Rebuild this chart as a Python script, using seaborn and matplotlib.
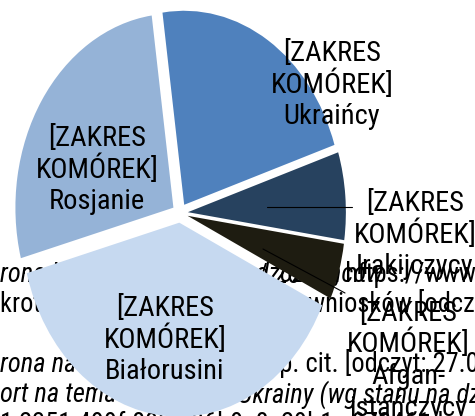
import matplotlib
matplotlib.use("Agg")
import matplotlib.pyplot as plt
import seaborn as sns
from matplotlib import font_manager as fm

# ---- data ----
categories = ["Ukraińcy", "Irakijczycy", "Afganistańczycy", "Białorusini", "Rosjanie"]
label_names = ["Ukraińcy", "Irakijczycy", "Afgan-\nistańczycy", "Białorusini", "Rosjanie"]
shares = [22.2, 7.3, 4.7, 38.8, 27.0]
label_prefix = "[ZAKRES\nKOMÓREK]"
colors = ["#4F81BD", "#27425F", "#1E1C11", "#C6D9F0", "#95B3D7"]

# background document text fragments (left x px, baseline y px, text, italic)
doc_text = [
    (0, 282, "rona Urzędu do Spraw Cudzoziemców", True),
    (258, 282, "/ 20", False),
    (327, 282, "., https://www.udsc.gov.pl", False),
    (0, 312, "krotność złożonych", False),
    (308, 312, "wniosków [odczyt: 27.03.2017]", False),
    (0, 372.5, "rona na temat", True),
    (266, 372.5, "op. cit. [odczyt: 27.03.2017]", False),
    (0, 402.5, "ort na temat obywateli", True),
    (238, 402.5, "Ukrainy (wg stanu na dzień", True),
    (0, 432.5, "1 2351-499f-8934-06b9c8e29b1c-373461d", False),
]

sns.set_theme(style="white")


def pick_font():
    tl = fm.fontManager.ttflist
    names = {f.name for f in tl}
    for want in ["Liberation Sans Narrow", "Arial Narrow", "Roboto Condensed",
                 "Open Sans Condensed", "Noto Sans Condensed"]:
        if want in names:
            return want, "normal"
    for fam in ["Liberation Sans", "Roboto", "Noto Sans", "Open Sans", "DejaVu Sans"]:
        for f in tl:
            st = f.stretch
            cond = (st in ("condensed", "semi-condensed", "extra-condensed")) or \
                   (isinstance(st, int) and st < 500)
            if f.name == fam and cond:
                return fam, "condensed"
    return "Liberation Sans", "normal"


FONT, STRETCH = pick_font()
plt.rcParams["font.family"] = [FONT, "DejaVu Sans"]

W, H = 475, 416
CX, CY, RX, RY = 180, 213, 158, 194


def to_data(x, y):
    return ((x - CX) / RX, (CY - y) / RY)


fig = plt.figure(figsize=(W / 100, H / 100), dpi=100)
ax = fig.add_axes([0, 0, 1, 1])
renderer = fig.canvas.get_renderer()


def fit_size(sample, target_px, italic=False):
    t = fig.text(0, 0, sample, fontsize=20, fontstretch=STRETCH,
                 style="italic" if italic else "normal")
    w = t.get_window_extent(renderer).width
    t.remove()
    return 20 * target_px / w


LABEL_FS = fit_size("KOMÓREK]", 123)
DOC_FS = fit_size("wniosków [odcz", 167)

wedges, _ = ax.pie(shares, colors=colors, startangle=97.9, counterclock=False,
                   explode=[0.05] * len(shares), radius=1.0,
                   wedgeprops=dict(linewidth=0, edgecolor="none"))
for w in wedges:
    w.set_zorder(2)

ax.set_aspect("auto")
ax.set_xlim(-CX / RX, (W - CX) / RX)
ax.set_ylim((CY - H) / RY, CY / RY)
ax.axis("off")

for x, y, s, it in doc_text:
    dx, dy = to_data(x, y)
    ax.text(dx, dy, s, ha="left", va="baseline", fontsize=DOC_FS,
            fontstretch=STRETCH, style="italic" if it else "normal",
            color="black", zorder=1)

# label anchor: (center x px, first-line baseline y px)
label_pos = [(332, 61), (415, 211), (408, 321), (165, 316), (97, 146)]
LINE_STEP = 31.5
for (lx, ly), name in zip(label_pos, label_names):
    lines = (label_prefix + "\n" + name).split("\n")
    for i, line in enumerate(lines):
        dx, dy = to_data(lx, ly + i * LINE_STEP)
        ax.text(dx, dy, line, ha="center", va="baseline", fontsize=LABEL_FS,
                fontstretch=STRETCH, color="black", zorder=5)

leaders = [((267, 207), (352, 207)), ((263, 249), (345, 293))]
for (x0, y0), (x1, y1) in leaders:
    a = to_data(x0, y0)
    b = to_data(x1, y1)
    ax.plot([a[0], b[0]], [a[1], b[1]], color="black", lw=0.8, zorder=4)

fig.savefig("out.png", dpi=100, facecolor="white")
